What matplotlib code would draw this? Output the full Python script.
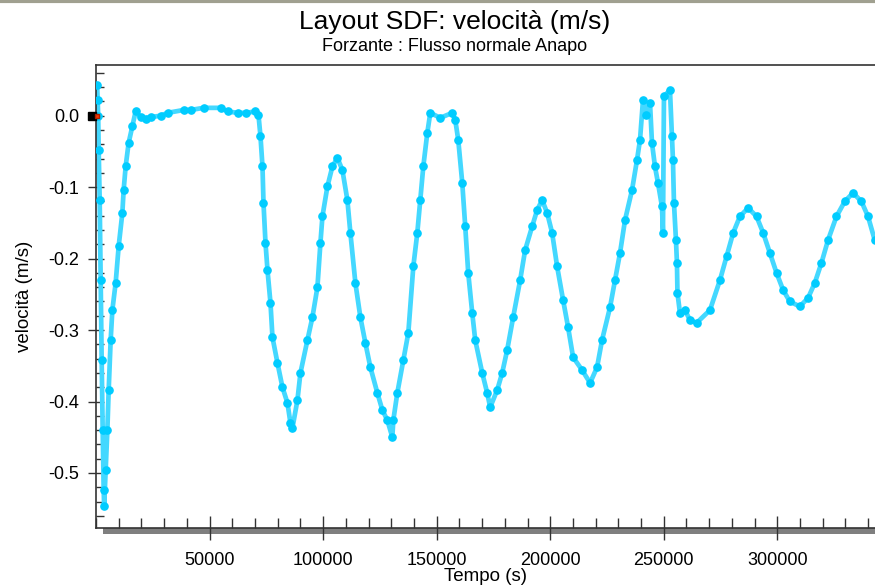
import matplotlib
matplotlib.use("Agg")
import matplotlib.pyplot as plt
from matplotlib.ticker import MultipleLocator, FixedLocator, FuncFormatter
from matplotlib.patches import Rectangle
import matplotlib.transforms as mtransforms

# Velocity time series at the SDF layout section (time in s, velocity in m/s)
tempo = [
    500, 750, 970, 1190, 1630, 2070, 2500, 2950, 3390, 3600,
    4270, 5010, 5590, 6460, 7210, 8660, 9980, 11610, 12180, 13060,
    14380, 16010, 17460, 19660, 21810, 24050, 28450, 31530, 38570, 41640,
    47360, 54840, 57920, 62310, 66000, 70230, 71550, 72430, 73310, 73750,
    74630, 75510, 76830, 77700, 79900, 82100, 84300, 85620, 86500, 88700,
    90020, 93100, 95300, 97500, 98820, 99700, 101900, 104100, 106290, 108490,
    110690, 112010, 114210, 116410, 118610, 120810, 123890, 126080, 128280, 130480,
    130920, 132680, 135320, 137520, 139720, 141480, 142800, 144120, 145880, 147200,
    151600, 156870, 158190, 159510, 161270, 162580, 163900, 165660, 166980, 170060,
    172250, 173570, 176650, 178850, 181050, 183690, 186770, 188960, 192040, 194240,
    196440, 198640, 200840, 203040, 205670, 207870, 210070, 214030, 217550, 220630,
    222820, 226340, 228540, 230740, 232940, 236020, 238210, 239530, 240850, 242170,
    243930, 244800, 246120, 247440, 249200, 249640, 250080, 252720, 253600, 254040,
    254480, 255360, 255800, 256020, 257120, 259320, 261520, 264470, 270340, 274740,
    277660, 280560, 283510, 287160, 290850, 293760, 296700, 299650, 302550, 305500,
    309890, 313540, 316490, 319430, 322330, 326030, 329680, 333330, 337030, 339930,
    342880,
]
velocita = [
    0.043, 0.022, 0.000, -0.048, -0.118, -0.230, -0.342, -0.440, -0.524, -0.546,
    -0.496, -0.440, -0.384, -0.314, -0.272, -0.234, -0.183, -0.136, -0.104, -0.071,
    -0.038, -0.015, 0.006, -0.002, -0.004, -0.002, 0.000, 0.004, 0.008, 0.008,
    0.011, 0.011, 0.006, 0.004, 0.004, 0.006, 0.001, -0.029, -0.071, -0.122,
    -0.178, -0.216, -0.262, -0.310, -0.346, -0.380, -0.402, -0.430, -0.437, -0.398,
    -0.360, -0.314, -0.282, -0.240, -0.178, -0.141, -0.099, -0.071, -0.059, -0.076,
    -0.118, -0.164, -0.234, -0.282, -0.318, -0.352, -0.388, -0.412, -0.426, -0.450,
    -0.426, -0.388, -0.342, -0.304, -0.211, -0.164, -0.118, -0.071, -0.024, 0.004,
    -0.003, 0.004, -0.006, -0.034, -0.094, -0.155, -0.220, -0.276, -0.314, -0.360,
    -0.388, -0.408, -0.384, -0.360, -0.328, -0.282, -0.230, -0.188, -0.155, -0.132,
    -0.118, -0.136, -0.164, -0.211, -0.258, -0.296, -0.338, -0.356, -0.374, -0.352,
    -0.314, -0.268, -0.230, -0.192, -0.146, -0.104, -0.062, -0.034, 0.022, 0.001,
    0.018, -0.038, -0.071, -0.094, -0.127, -0.164, 0.027, 0.036, -0.029, -0.062,
    -0.122, -0.174, -0.206, -0.248, -0.276, -0.272, -0.286, -0.290, -0.272, -0.230,
    -0.197, -0.164, -0.141, -0.129, -0.141, -0.164, -0.192, -0.220, -0.244, -0.260,
    -0.267, -0.255, -0.234, -0.206, -0.174, -0.141, -0.120, -0.108, -0.120, -0.141,
    -0.174,
]

tick_tempo = [50000, 100000, 150000, 200000, 250000, 300000]

titolo = "Layout SDF: velocità (m/s)"
sottotitolo = "Forzante : Flusso normale Anapo"
etichetta_x = "Tempo (s)"
etichetta_y = "velocità (m/s)"

plt.rcParams["font.family"] = ["Liberation Sans", "DejaVu Sans"]

fig = plt.figure(figsize=(8.75, 5.87), dpi=100)
ax = fig.add_axes([0.1097, 0.1005, 0.8903, 0.7888])

ciano = "#00CCFF"
ax.plot(tempo, velocita, color="#44D8FF", lw=3.4, zorder=2,
        solid_joinstyle="round", solid_capstyle="round")
ax.plot(tempo, velocita, linestyle="none", marker="o", ms=5.2,
        mfc=ciano, mec=ciano, zorder=3)

ax.set_xlim(0, 343000)
ax.set_ylim(-0.577, 0.071)

ax.xaxis.set_major_locator(FixedLocator(tick_tempo))
ax.xaxis.set_minor_locator(MultipleLocator(10000))
ax.yaxis.set_major_locator(MultipleLocator(0.1))
ax.yaxis.set_minor_locator(MultipleLocator(0.02))
ax.xaxis.set_major_formatter(FuncFormatter(lambda v, p: f"{v:.0f}"))
ax.yaxis.set_major_formatter(FuncFormatter(lambda v, p: f"{v:.1f}".replace("-0.0", "0.0")))

ax.tick_params(axis="x", which="major", direction="inout", length=17, width=1,
               color="#333333", labelsize=13, pad=9)
ax.tick_params(axis="x", which="minor", direction="in", length=7, width=1, color="#333333")
ax.tick_params(axis="y", which="major", direction="inout", length=12, width=1,
               color="#333333", labelsize=13, pad=6)
ax.tick_params(axis="y", which="minor", direction="in", length=6, width=1, color="#333333")

for lato in ("left", "top", "bottom"):
    ax.spines[lato].set_color("#333333")
    ax.spines[lato].set_linewidth(1.2)
ax.spines["right"].set_visible(False)

# Scroll bar strip under the time axis
ax.add_patch(Rectangle((0.009, -0.014), 1.0, 0.014, transform=ax.transAxes,
                       facecolor="#7f7f7f", edgecolor="none", clip_on=False, zorder=1))

# Reference marker at zero velocity on the left axis
trans = mtransforms.blended_transform_factory(ax.transAxes, ax.transData)
ax.plot([-0.0055], [0.0], marker="s", ms=5.5, color="black", transform=trans,
        clip_on=False, zorder=5)
ax.plot([0.0012], [0.0], marker="s", ms=3.5, color="#ff3300", mec="#aa2200",
        transform=trans, clip_on=False, zorder=6)

ax.set_xlabel(etichetta_x, fontsize=13.5, labelpad=-1)
ax.set_ylabel(etichetta_y, fontsize=13.5, labelpad=11)

fig.text(0.52, 0.963, titolo, ha="center", va="center", fontsize=19)
fig.text(0.52, 0.921, sottotitolo, ha="center", va="center", fontsize=13)

# Top frame line of the window
fig.add_artist(plt.Line2D([0, 1], [0.998, 0.998], transform=fig.transFigure,
                          color="#a0a090", lw=3))

fig.savefig("out.png", dpi=100, facecolor="white")
